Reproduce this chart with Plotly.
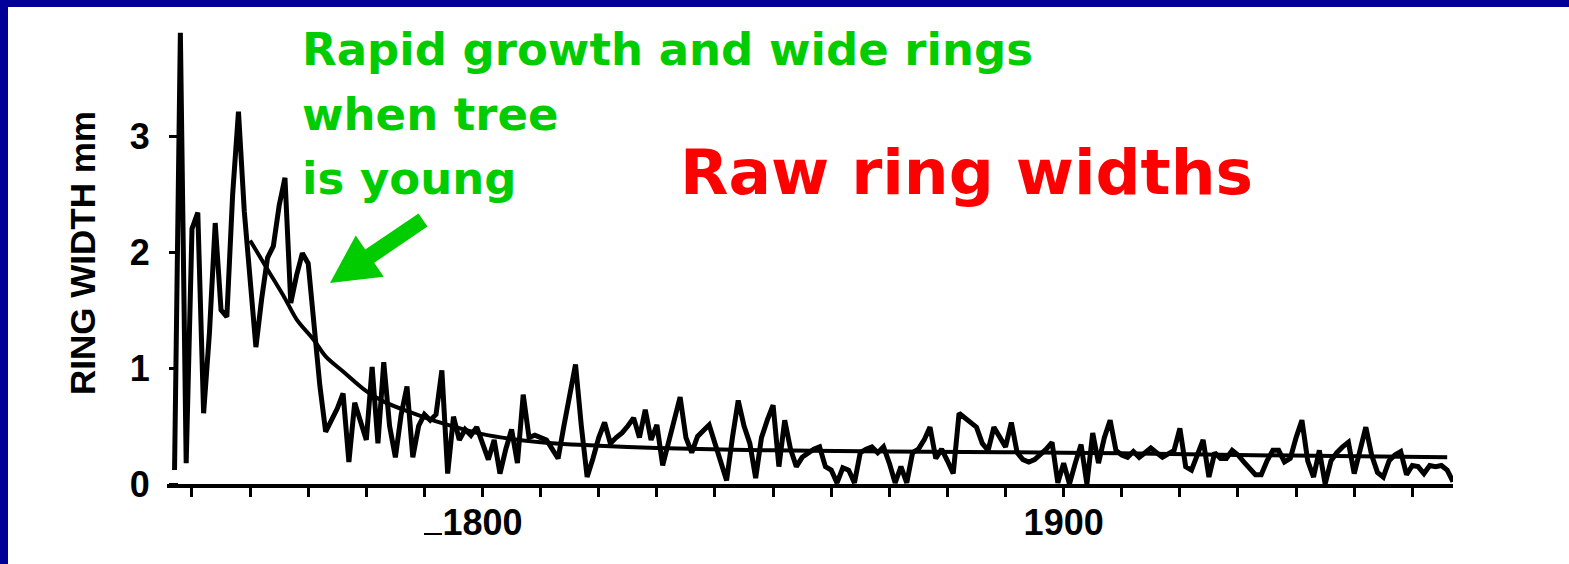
import math
import plotly.graph_objects as go

# Ring-width series (mm), one value per year
years = list(range(1747, 1968))
ring_width = [
    0.12, 3.89, 0.18, 2.20, 2.34, 0.61, 1.30, 2.25, 1.50, 1.44,   # 1747-1756
    2.50, 3.21, 2.35, 1.75, 1.18, 1.60, 1.95, 2.05, 2.40, 2.64,   # 1757-1766
    1.56, 1.80, 1.99, 1.90, 1.35, 0.85, 0.45, 0.55, 0.65, 0.78,   # 1767-1776
    0.19, 0.70, 0.55, 0.38, 1.01, 0.35, 1.05, 0.50, 0.23, 0.60,   # 1777-1786
    0.84, 0.23, 0.50, 0.60, 0.55, 0.60, 0.98, 0.09, 0.58, 0.38,   # 1787-1796
    0.47, 0.42, 0.49, 0.35, 0.21, 0.38, 0.09, 0.30, 0.47, 0.18,   # 1797-1806
    0.77, 0.40, 0.42, 0.40, 0.38, 0.30, 0.22, 0.50, 0.78, 1.03,   # 1807-1816
    0.50, 0.06, 0.22, 0.40, 0.53, 0.35, 0.40, 0.44, 0.50, 0.57,   # 1817-1826
    0.40, 0.64, 0.38, 0.51, 0.16, 0.35, 0.55, 0.75, 0.40, 0.27,   # 1827-1836
    0.41, 0.46, 0.51, 0.35, 0.20, 0.03, 0.40, 0.72, 0.50, 0.35,   # 1837-1846
    0.05, 0.40, 0.55, 0.68, 0.15, 0.55, 0.30, 0.15, 0.23, 0.27,   # 1847-1856
    0.30, 0.32, 0.15, 0.12, 0.01, 0.14, 0.12, 0.01, 0.27, 0.30,   # 1857-1866
    0.32, 0.27, 0.32, 0.18, 0.01, 0.15, 0.01, 0.27, 0.30, 0.38,   # 1867-1876
    0.49, 0.22, 0.30, 0.20, 0.09, 0.61, 0.57, 0.52, 0.49, 0.35,   # 1877-1886
    0.29, 0.49, 0.40, 0.32, 0.53, 0.27, 0.21, 0.19, 0.21, 0.25,   # 1887-1896
    0.30, 0.36, 0.01, 0.18, 0.00, 0.18, 0.34, 0.00, 0.44, 0.18,   # 1897-1906
    0.40, 0.55, 0.29, 0.25, 0.23, 0.28, 0.23, 0.27, 0.31, 0.27,   # 1907-1916
    0.23, 0.26, 0.29, 0.48, 0.15, 0.12, 0.25, 0.38, 0.06, 0.27,   # 1917-1926
    0.22, 0.22, 0.29, 0.25, 0.19, 0.14, 0.08, 0.08, 0.20, 0.29,   # 1927-1936
    0.29, 0.19, 0.22, 0.40, 0.55, 0.20, 0.06, 0.29, 0.00, 0.20,   # 1937-1946
    0.27, 0.32, 0.36, 0.09, 0.30, 0.49, 0.25, 0.10, 0.06, 0.20,   # 1947-1956
    0.25, 0.28, 0.08, 0.16, 0.15, 0.09, 0.16, 0.15, 0.16, 0.12,   # 1957-1966
    0.02,                                                          # 1967
]

# Fitted growth curve (negative exponential shape)
trend_years = [1760, 1763, 1766, 1768, 1771, 1773, 1776, 1780, 1783, 1788,
               1792, 1800, 1810, 1820, 1830, 1850, 1870, 1900, 1930, 1966]
trend_width = [2.10, 1.85, 1.60, 1.42, 1.24, 1.10, 0.97, 0.80, 0.71, 0.61,
               0.54, 0.43, 0.36, 0.33, 0.31, 0.29, 0.28, 0.27, 0.25, 0.23]

decade_ticks = list(range(1750, 1970, 10))
labelled_years = {1800: "1800", 1900: "1900"}
y_ticks = [0, 1, 2, 3]

W_FIG, H_FIG = 1569, 564
L, R, T, B = 167, 1453, 25, 484
X_RANGE = [1745.7, 1967.0]
Y_RANGE = [0, 3.957]

GREEN = "#00CC00"
RED = "#FF0000"
NAVY = "#000099"


def xp(px):
    return (px - L) / (R - L)


def yp(py):
    return (B - py) / (B - T)


fig = go.Figure()
fig.add_trace(go.Scatter(x=years, y=ring_width, mode="lines",
                         line=dict(color="black", width=5),
                         hoverinfo="skip", showlegend=False))
fig.add_trace(go.Scatter(x=trend_years, y=trend_width, mode="lines",
                         line=dict(color="black", width=4, shape="spline"),
                         hoverinfo="skip", showlegend=False))

axis_font = dict(family="Liberation Sans", size=36, color="black", weight="bold")

fig.update_layout(
    width=W_FIG, height=H_FIG,
    margin=dict(l=L, r=W_FIG - R, t=T, b=H_FIG - B, pad=0),
    paper_bgcolor="white", plot_bgcolor="white",
    xaxis=dict(range=X_RANGE, showgrid=False, zeroline=False,
               showline=True, linecolor="black", linewidth=4,
               ticks="outside", ticklen=9, tickwidth=3, tickcolor="black",
               tickvals=decade_ticks,
               ticktext=[labelled_years.get(v, "") for v in decade_ticks],
               ticklabelstandoff=-5, tickfont=axis_font),
    yaxis=dict(range=Y_RANGE, showgrid=False, zeroline=False, showline=False,
               anchor="free", position=xp(178),
               ticks="outside", ticklen=9, tickwidth=3, tickcolor="black",
               tickvals=y_ticks, ticktext=[str(v) for v in y_ticks],
               ticklabelstandoff=12, tickfont=axis_font),
)

# Blue frame along the left and top edges
fig.add_shape(type="rect", xref="paper", yref="paper",
              x0=xp(0), x1=xp(8), y0=yp(H_FIG), y1=yp(0),
              fillcolor=NAVY, line_width=0, layer="above")
fig.add_shape(type="rect", xref="paper", yref="paper",
              x0=xp(0), x1=xp(W_FIG), y0=yp(7), y1=yp(0),
              fillcolor=NAVY, line_width=0, layer="above")

# Small dash in front of the 1800 label
fig.add_shape(type="line", xref="paper", yref="paper",
              x0=xp(424), x1=xp(442), y0=yp(534), y1=yp(534),
              line=dict(color="black", width=2))

# Vertical axis title
fig.add_annotation(text="RING WIDTH mm", xref="paper", yref="paper",
                   x=xp(82), y=yp(253), textangle=-90, showarrow=False,
                   xanchor="center", yanchor="middle",
                   font=dict(family="Liberation Sans", size=35, color="black",
                             weight="bold"))

# Green explanatory note
note_font = dict(family="DejaVu Sans", size=45, color=GREEN, weight="bold")
for line, base in [("Rapid growth and wide rings", 65),
                   ("when tree", 130),
                   ("is young", 195)]:
    fig.add_annotation(text=line, xref="paper", yref="paper",
                       x=xp(300), y=yp(base - 16), showarrow=False,
                       xanchor="left", yanchor="middle", font=note_font)

# Red heading
fig.add_annotation(text="Raw ring widths", xref="paper", yref="paper",
                   x=xp(678), y=yp(172), showarrow=False,
                   xanchor="left", yanchor="middle",
                   font=dict(family="DejaVu Sans", size=63, color=RED,
                             weight="bold"))

# Green arrow pointing at the young-tree rings
tip = (330, 283)
tail = (423, 220)
dx, dy = tip[0] - tail[0], tip[1] - tail[1]
n = math.hypot(dx, dy)
ux, uy = dx / n, dy / n
nx, ny = -uy, ux
head_len, head_half, shaft_half = 48, 25, 8
bx, by = tip[0] - head_len * ux, tip[1] - head_len * uy
pts = [
    (tail[0] + shaft_half * nx, tail[1] + shaft_half * ny),
    (bx + shaft_half * nx, by + shaft_half * ny),
    (bx + head_half * nx, by + head_half * ny),
    tip,
    (bx - head_half * nx, by - head_half * ny),
    (bx - shaft_half * nx, by - shaft_half * ny),
    (tail[0] - shaft_half * nx, tail[1] - shaft_half * ny),
]
path = "M " + " L ".join(f"{xp(x):.5f},{yp(y):.5f}" for x, y in pts) + " Z"
fig.add_shape(type="path", xref="paper", yref="paper", path=path,
              fillcolor=GREEN, line_width=0, layer="above")

fig.write_html("out.html")
